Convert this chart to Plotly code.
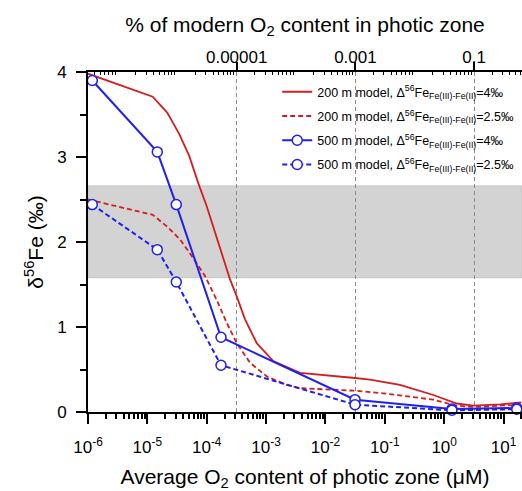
import plotly.graph_objects as go

# ---------------- data ----------------
# 200 m model, Δ56Fe = 4‰ (red solid)
x_200_4 = [1.0e-6, 1.23e-5, 2.17e-5, 3.45e-5, 5.09e-5, 7.22e-5, 1.0e-4, 1.38e-4, 1.90e-4,
           2.47e-4, 3.2e-4, 4.42e-4, 6.95e-4, 1.32e-3, 3.73e-3, 8.09e-3, 0.0315, 0.0563,
           0.180, 0.656, 1.63, 3.10, 8.73, 20.0]
y_200_4 = [3.98, 3.71, 3.52, 3.27, 3.01, 2.69, 2.42, 2.11, 1.79,
           1.56, 1.36, 1.09, 0.81, 0.60, 0.46, 0.44, 0.40, 0.38,
           0.32, 0.20, 0.10, 0.074, 0.089, 0.113]

# 200 m model, Δ56Fe = 2.5‰ (red dashed)
x_200_25 = [1.0e-6, 1.23e-5, 2.17e-5, 3.55e-5, 5.94e-5, 9.35e-5, 1.47e-4, 2.17e-4, 3.2e-4,
            5.36e-4, 1.02e-3, 2.22e-3, 3.73e-3, 0.0315, 0.0944, 0.656, 1.63, 3.10, 20.0]
y_200_25 = [2.50, 2.32, 2.18, 2.03, 1.81, 1.60, 1.32, 1.05, 0.81,
            0.58, 0.42, 0.32, 0.28, 0.25, 0.22, 0.145, 0.074, 0.059, 0.086]

# 500 m model, Δ56Fe = 4‰ (blue solid, circles)
x_500_4 = [1.18e-6, 1.47e-5, 3.07e-5, 1.74e-4, 0.0315, 1.35, 16.7]
y_500_4 = [3.90, 3.06, 2.44, 0.88, 0.145, 0.035, 0.047]

# 500 m model, Δ56Fe = 2.5‰ (blue dashed, circles)
x_500_25 = [1.18e-6, 1.47e-5, 3.07e-5, 1.74e-4, 0.0315, 1.35, 16.7]
y_500_25 = [2.44, 1.91, 1.53, 0.55, 0.086, 0.02, 0.033]

# observed range band
band_low, band_high = 1.58, 2.66

# bottom axis ticks
x_tickvals = [1e-6, 1e-5, 1e-4, 1e-3, 1e-2, 1e-1, 1e0, 1e1]
x_ticktext = ["10<sup>-6</sup>", "10<sup>-5</sup>", "10<sup>-4</sup>", "10<sup>-3</sup>",
              "10<sup>-2</sup>", "10<sup>-1</sup>", "10<sup>0</sup>", "10<sup>1</sup>"]
# top axis ticks (% of modern O2)
top_tickvals = [1e-5, 1e-3, 1e-1]
top_ticktext = ["0.00001", "0.001", "0.1"]

names = [
    "200 m model, Δ<sup>56</sup>Fe<sub>Fe(III)-Fe(II)</sub>=4‰",
    "200 m model, Δ<sup>56</sup>Fe<sub>Fe(III)-Fe(II)</sub>=2.5‰",
    "500 m model, Δ<sup>56</sup>Fe<sub>Fe(III)-Fe(II)</sub>=4‰",
    "500 m model, Δ<sup>56</sup>Fe<sub>Fe(III)-Fe(II)</sub>=2.5‰",
]

RED = "#d21e1e"
BLUE = "#1f1ff0"
FONT = "Liberation Sans, Arial, sans-serif"

fig = go.Figure()
fig.add_trace(go.Scatter(x=x_200_4, y=y_200_4, mode="lines", name=names[0],
                         line=dict(color=RED, width=1.8), legendgroup="a", cliponaxis=True))
fig.add_trace(go.Scatter(x=x_200_25, y=y_200_25, mode="lines", name=names[1],
                         line=dict(color=RED, width=1.8, dash="5px,3px"), legendgroup="b"))
fig.add_trace(go.Scatter(x=x_500_4, y=y_500_4, mode="lines+markers", name=names[2],
                         line=dict(color=BLUE, width=2),
                         marker=dict(symbol="circle", size=10, color="white",
                                     line=dict(color=BLUE, width=1.5)),
                         legendgroup="c", cliponaxis=False))
fig.add_trace(go.Scatter(x=x_500_25, y=y_500_25, mode="lines+markers", name=names[3],
                         line=dict(color=BLUE, width=2, dash="5px,3px"),
                         marker=dict(symbol="circle", size=10, color="white",
                                     line=dict(color=BLUE, width=1.5)),
                         legendgroup="d", cliponaxis=False))
# empty trace so the top (% of modern O2) axis is created
fig.add_trace(go.Scatter(x=[], y=[], xaxis="x2", yaxis="y", showlegend=False,
                         hoverinfo="skip", mode="lines"))

# band drawn in the lowest layer (plot background is transparent) so gridlines stay on top
fig.add_shape(type="rect", xref="paper", yref="y", x0=0, x1=1,
              y0=band_low, y1=band_high, fillcolor="#d3d3d3",
              line=dict(width=1, color="#c6c6c6"), layer="below")


def minor_log(lo, hi):
    vals = []
    for e in range(lo, hi + 1):
        for m in range(2, 10):
            vals.append(m * 10.0 ** e)
    return vals


fig.update_layout(
    width=522, height=491,
    margin=dict(l=88, r=0, t=72, b=79),
    plot_bgcolor="rgba(0,0,0,0)", paper_bgcolor="white",
    font=dict(family=FONT, size=17, color="black"),
    showlegend=True,
    legend=dict(x=0.436, y=0.985, xanchor="left", yanchor="top",
                bgcolor="rgba(0,0,0,0)", font=dict(size=12.5, family=FONT),
                tracegroupgap=5, itemwidth=30),
    xaxis=dict(
        type="log", range=[-6, 1.311], showgrid=False, zeroline=False,
        showline=True, linecolor="black", linewidth=2,
        tickmode="array", tickvals=x_tickvals, ticktext=x_ticktext,
        ticks="outside", ticklen=10, tickwidth=2, tickcolor="black",
        ticklabelstandoff=9,
        minor=dict(tickmode="array", tickvals=minor_log(-6, 1), ticks="outside",
                   ticklen=5, tickwidth=1.5, tickcolor="black", showgrid=False),
        title=dict(text="Average O<sub>2</sub> content of photic zone (μM)",
                   font=dict(size=21), standoff=13),
        automargin=False,
    ),
    xaxis2=dict(
        type="log", range=[-7.505, -0.194], overlaying="x", side="top", anchor="y",
        showgrid=True, gridcolor="#8a8a8a", gridwidth=1, griddash="4px,3px",
        zeroline=False, showline=True, linecolor="black", linewidth=2,
        tickmode="array", tickvals=top_tickvals, ticktext=top_ticktext,
        ticks="outside", ticklen=8, tickwidth=2, tickcolor="black",
        ticklabelstandoff=-8,
        minor=dict(tickmode="array", tickvals=minor_log(-8, 0), ticks="inside",
                   ticklen=3, tickwidth=1, tickcolor="black", showgrid=False),
        title=dict(text="% of modern O<sub>2</sub> content in photic zone",
                   font=dict(size=21), standoff=10),
        automargin=False,
    ),
    yaxis=dict(
        range=[0, 4], showgrid=False, zeroline=False,
        showline=True, linecolor="black", linewidth=2,
        tickmode="linear", tick0=0, dtick=1,
        ticks="outside", ticklen=10, tickwidth=2, tickcolor="black",
        ticklabelstandoff=6,
        minor=dict(dtick=0.5, ticks="outside", ticklen=6, tickwidth=1.5,
                   tickcolor="black", showgrid=False),
        title=dict(text="δ<sup>56</sup>Fe (‰)", font=dict(size=21), standoff=8),
        automargin=False,
    ),
)

fig.write_html("out.html")
